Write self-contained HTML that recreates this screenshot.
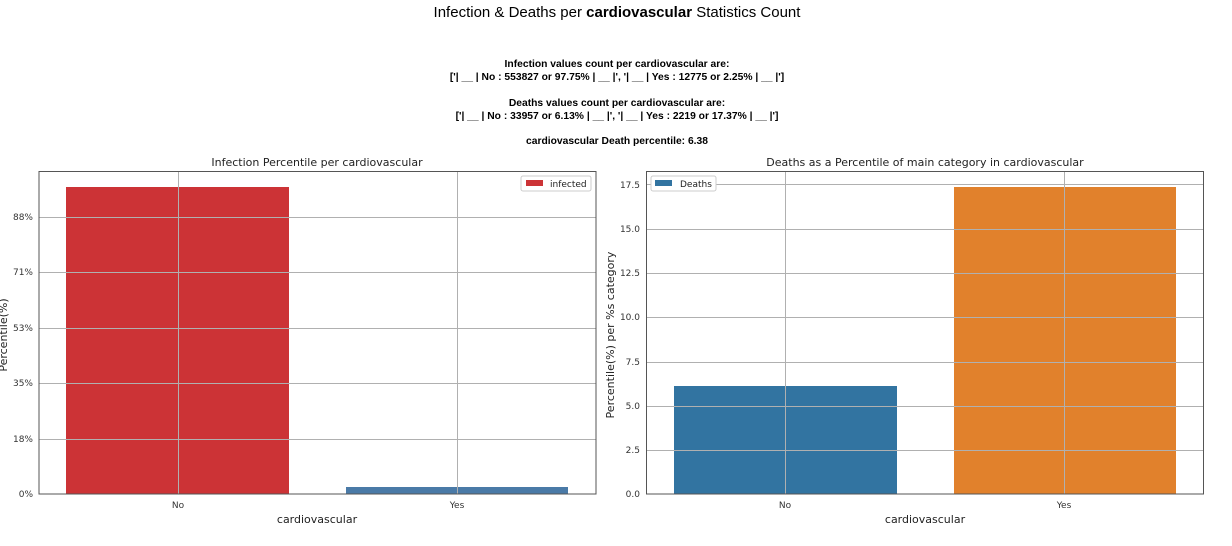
<!DOCTYPE html>
<html><head><meta charset="utf-8"><style>
body{margin:0;background:#fff;}
svg text{font-family:"DejaVu Sans","Liberation Sans",sans-serif;}
.b{font-family:"Liberation Sans",Arial,sans-serif;font-weight:bold;font-size:10.3px;fill:#000}
</style></head><body>
<svg width="1232" height="541" viewBox="0 0 1232 541" xmlns="http://www.w3.org/2000/svg">
<rect width="1232" height="541" fill="#fff"/>
<text x="617" y="17" text-anchor="middle" style="font-family:'Liberation Sans',Arial,sans-serif;font-size:15px">Infection &amp; Deaths per <tspan font-weight="bold">cardiovascular</tspan> Statistics Count</text>
<text class="b" x="617" y="67" text-anchor="middle">Infection values count per cardiovascular are:</text>
<text class="b" x="617" y="80" text-anchor="middle">['| __ | No : 553827 or 97.75% | __ |', '| __ | Yes : 12775 or 2.25% | __ |']</text>
<text class="b" x="617" y="106" text-anchor="middle">Deaths values count per cardiovascular are:</text>
<text class="b" x="617" y="119" text-anchor="middle">['| __ | No : 33957 or 6.13% | __ |', '| __ | Yes : 2219 or 17.37% | __ |']</text>
<text class="b" x="617" y="144" text-anchor="middle">cardiovascular Death percentile: 6.38</text>

<!-- Left chart -->
<text x="317" y="166" text-anchor="middle" font-size="11" fill="#222">Infection Percentile per cardiovascular</text>
<rect x="66" y="187" width="223" height="307" fill="#cc3336"/>
<rect x="346" y="487" width="222" height="7" fill="#4a7aa7"/>
<g stroke="#b0b0b0" stroke-width="1">
<line x1="39" x2="596" y1="217.5" y2="217.5"/><line x1="39" x2="596" y1="272.5" y2="272.5"/>
<line x1="39" x2="596" y1="328.5" y2="328.5"/><line x1="39" x2="596" y1="383.5" y2="383.5"/>
<line x1="39" x2="596" y1="439.5" y2="439.5"/>
<line x1="178.5" x2="178.5" y1="172" y2="494"/><line x1="457.5" x2="457.5" y1="172" y2="494"/>
</g>
<rect x="39" y="171.5" width="557" height="322.5" fill="none" stroke="#555" stroke-width="1"/>
<g font-size="9" fill="#333" text-anchor="end">
<text x="33" y="220">88%</text><text x="33" y="275">71%</text><text x="33" y="331">53%</text>
<text x="33" y="386">35%</text><text x="33" y="442">18%</text><text x="33" y="497">0%</text>
</g>
<g font-size="9" fill="#333" text-anchor="middle"><text x="178" y="508">No</text><text x="457" y="508">Yes</text></g>
<text x="317" y="523" text-anchor="middle" font-size="11" fill="#222">cardiovascular</text>
<text transform="translate(7,335) rotate(-90)" text-anchor="middle" font-size="11" fill="#222">Percentile(%)</text>
<rect x="521" y="176" width="70" height="15" fill="#fff" stroke="#ccc" rx="2"/>
<rect x="526" y="180" width="17" height="6" fill="#cc3336"/>
<text x="550" y="187" font-size="9" fill="#222">infected</text>

<!-- Right chart -->
<text x="925" y="166" text-anchor="middle" font-size="11" fill="#222">Deaths as a Percentile of main category in cardiovascular</text>
<rect x="674" y="386" width="223" height="108" fill="#3274a1"/>
<rect x="954" y="187" width="222" height="307" fill="#e1812c"/>
<g stroke="#b0b0b0" stroke-width="1">
<line x1="646" x2="1204" y1="184.5" y2="184.5"/><line x1="646" x2="1204" y1="229.5" y2="229.5"/>
<line x1="646" x2="1204" y1="273.5" y2="273.5"/><line x1="646" x2="1204" y1="317.5" y2="317.5"/>
<line x1="646" x2="1204" y1="362.5" y2="362.5"/><line x1="646" x2="1204" y1="406.5" y2="406.5"/>
<line x1="646" x2="1204" y1="450.5" y2="450.5"/>
<line x1="785.5" x2="785.5" y1="172" y2="494"/><line x1="1064.5" x2="1064.5" y1="172" y2="494"/>
</g>
<rect x="646.5" y="171.5" width="557" height="322.5" fill="none" stroke="#555" stroke-width="1"/>
<g font-size="9" fill="#333" text-anchor="end">
<text x="640" y="188">17.5</text><text x="640" y="232">15.0</text><text x="640" y="276">12.5</text>
<text x="640" y="320">10.0</text><text x="640" y="365">7.5</text><text x="640" y="409">5.0</text>
<text x="640" y="453">2.5</text><text x="640" y="497">0.0</text>
</g>
<g font-size="9" fill="#333" text-anchor="middle"><text x="785" y="508">No</text><text x="1064" y="508">Yes</text></g>
<text x="925" y="523" text-anchor="middle" font-size="11" fill="#222">cardiovascular</text>
<text transform="translate(614,335) rotate(-90)" text-anchor="middle" font-size="11" fill="#222">Percentile(%) per %s category</text>
<rect x="651" y="176" width="65" height="15" fill="#fff" stroke="#ccc" rx="2"/>
<rect x="655" y="180" width="17" height="6" fill="#3274a1"/>
<text x="680" y="187" font-size="9" fill="#222">Deaths</text>
</svg>
</body></html>
